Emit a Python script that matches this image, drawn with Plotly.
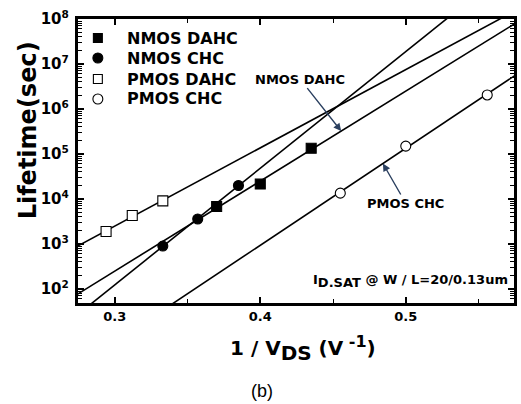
import numpy as np
import plotly.graph_objects as go

# Hot-carrier lifetime vs. inverse drain voltage (1/V_DS), lifetime in seconds
nmos_dahc_x = [0.370, 0.400, 0.435]
nmos_dahc_t = [6.8e3, 2.15e4, 1.34e5]

nmos_chc_x = [0.333, 0.357, 0.385]
nmos_chc_t = [9.0e2, 3.6e3, 2.0e4]

pmos_dahc_x = [0.294, 0.312, 0.333]
pmos_dahc_t = [1.9e3, 4.3e3, 9.1e3]

pmos_chc_x = [0.455, 0.500, 0.556]
pmos_chc_t = [1.35e4, 1.5e5, 2.05e6]

x_range = [0.2747, 0.5744]
y_range_log = [1.689, 8.0]

BOLD = "DejaVu Sans"

W, H = 521, 404
L, R, T, B = 78, 4, 19, 101
pw, ph = W - L - R, H - T - B


def px(xp):
    return (xp - L) / pw


def py(yp):
    return (H - B - yp) / ph


def fit(xs, ts):
    # straight-line fit of log10(lifetime) against 1/V_DS
    k, b = np.polyfit(np.array(xs), np.log10(np.array(ts)), 1)
    return k, b


series = [
    ("NMOS DAHC", nmos_dahc_x, nmos_dahc_t, "square", "black"),
    ("NMOS CHC", nmos_chc_x, nmos_chc_t, "circle", "black"),
    ("PMOS DAHC", pmos_dahc_x, pmos_dahc_t, "square", "white"),
    ("PMOS CHC", pmos_chc_x, pmos_chc_t, "circle", "white"),
]

fig = go.Figure()
fits = {}
xl = np.array([0.26, 0.59])
for name, xs, ts, sym, fill in series:
    k, b = fit(xs, ts)
    fits[name] = (k, b)
    fig.add_trace(go.Scatter(x=xl, y=10 ** (k * xl + b), mode="lines",
                             line=dict(color="black", width=1.6),
                             showlegend=False, hoverinfo="skip"))

for name, xs, ts, sym, fill in series:
    fig.add_trace(go.Scatter(
        x=xs, y=ts, mode="markers", name=name, showlegend=False,
        marker=dict(symbol=sym, size=10, color=fill,
                    line=dict(color="black", width=1.1)),
    ))

annotations = []
shapes = []

# legend: key symbol + bold label per series
leg_x, leg_text_x = 98, 125
leg_rows = [38, 58, 79, 99]
for (name, xs, ts, sym, fill), yr in zip(series, leg_rows):
    r = 4.5 if sym == "square" else 5
    shapes.append(dict(type="rect" if sym == "square" else "circle",
                       xref="paper", yref="paper",
                       x0=px(leg_x - r), x1=px(leg_x + r),
                       y0=py(yr + r), y1=py(yr - r),
                       fillcolor=fill, line=dict(color="black", width=1.1)))
    annotations.append(dict(x=px(leg_text_x), y=py(yr), xref="paper", yref="paper",
                            xanchor="left", yanchor="middle", text=name,
                            showarrow=False,
                            font=dict(family=BOLD, size=16, color="black", weight="bold")))

# labelled arrows pointing at fitted lines
kx, bx = fits["NMOS DAHC"]
xa = 0.4556
annotations.append(dict(x=xa, y=kx * xa + bx, xref="x", yref="y",
                        text="NMOS DAHC", showarrow=True, arrowhead=2,
                        arrowsize=1.1, arrowwidth=1.4, ax=-41, ay=-52,
                        font=dict(family=BOLD, size=13, color="black", weight="bold")))
kx, bx = fits["PMOS CHC"]
xa = 0.4843
annotations.append(dict(x=xa, y=kx * xa + bx, xref="x", yref="y",
                        text="PMOS CHC", showarrow=True, arrowhead=2,
                        arrowsize=1.1, arrowwidth=1.4, ax=23, ay=40,
                        font=dict(family=BOLD, size=13, color="black", weight="bold")))

annotations.append(dict(x=px(413), y=py(281), xref="paper", yref="paper",
                        xanchor="center", yanchor="middle",
                        text='I<sub><span style="font-size:13px">D.SAT</span></sub> @ W / L=20/0.13um',
                        showarrow=False,
                        font=dict(family=BOLD, size=13, color="black", weight="bold")))
annotations.append(dict(x=px(28), y=py(130), xref="paper", yref="paper",
                        xanchor="center", yanchor="middle",
                        text="Lifetime(sec)", textangle=-90, showarrow=False,
                        font=dict(family=BOLD, size=24, color="black", weight="bold")))
annotations.append(dict(x=px(305), y=py(348), xref="paper", yref="paper",
                        xanchor="center", yanchor="middle",
                        text='1 / V<sub><span style="font-size:20px">DS</span></sub> '
                             '(V<sup><span style="font-size:16px"> -1</span></sup>)',
                        showarrow=False,
                        font=dict(family=BOLD, size=20, color="black", weight="bold")))
annotations.append(dict(x=px(263), y=py(391), xref="paper", yref="paper",
                        xanchor="center", yanchor="middle",
                        text="(b)", showarrow=False,
                        font=dict(family="Liberation Sans", size=18, color="black")))

axis_common = dict(showline=True, linecolor="black", linewidth=2.5, mirror="allticks",
                   ticks="inside", tickcolor="black", tickwidth=1.6, ticklen=6,
                   showgrid=False, zeroline=False)

fig.update_layout(
    width=W, height=H,
    margin=dict(l=L, r=R, t=T, b=B),
    paper_bgcolor="white", plot_bgcolor="white",
    showlegend=False,
    annotations=annotations,
    shapes=shapes,
    xaxis=dict(range=x_range, dtick=0.1, tick0=0.3, tickformat=".1f",
               minor=dict(ticks="inside", ticklen=4, dtick=0.05, tickcolor="black",
                          tickwidth=1.4),
               tickfont=dict(family=BOLD, size=13, color="black", weight="bold"),
               **axis_common),
    yaxis=dict(type="log", range=y_range_log, dtick=1, exponentformat="power",
               minor=dict(ticks="inside", ticklen=4, tickcolor="black", tickwidth=1.4),
               tickfont=dict(family=BOLD, size=12, color="black", weight="bold"),
               ticklabelstandoff=4,
               **axis_common),
)

fig.write_html("out.html")
